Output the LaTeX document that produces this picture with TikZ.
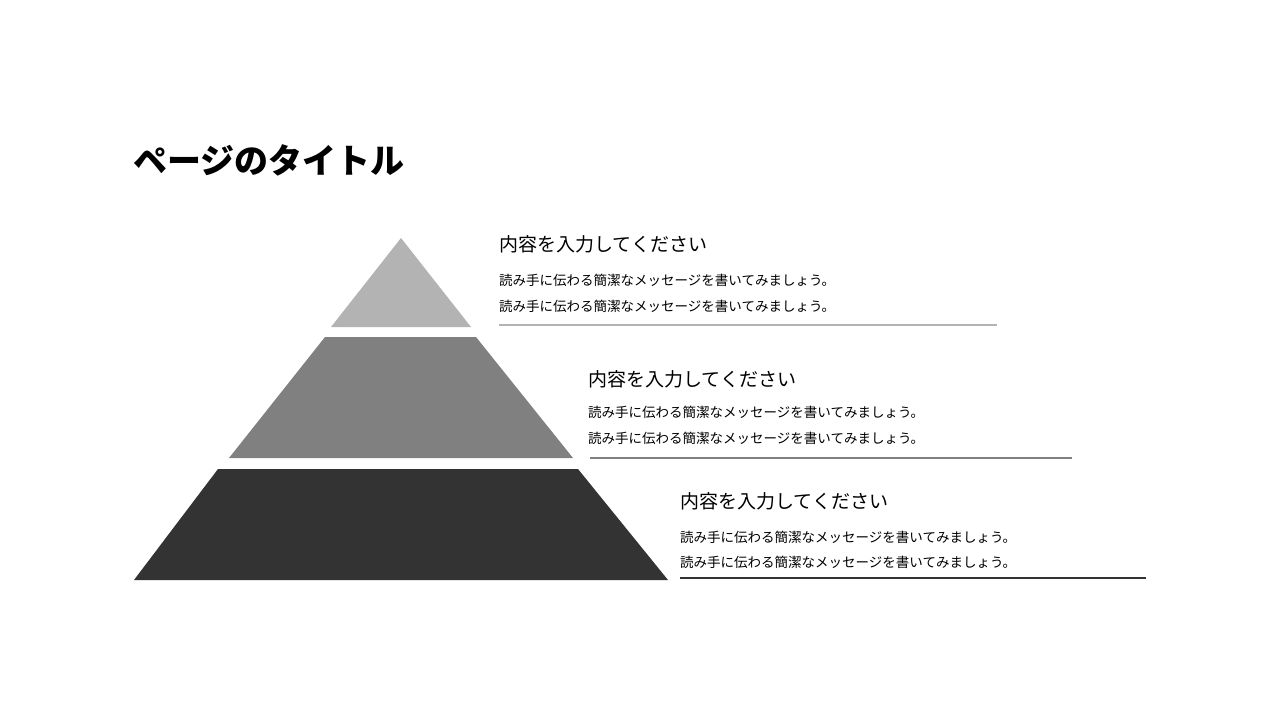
\documentclass[tikz,border=0pt]{standalone}
\usepackage{fontspec}
\setmainfont{Noto Sans CJK JP}
\tikzset{
 head/.style={anchor=west,inner sep=0pt,font=\fontsize{19}{22}\selectfont},
 body/.style={anchor=west,inner sep=0pt,font=\fontsize{13.5}{16}\selectfont},
}
\definecolor{c1}{HTML}{B3B3B3}
\definecolor{c2}{HTML}{808080}
\definecolor{c3}{HTML}{333333}
\begin{document}
\begin{tikzpicture}[x=1pt,y=-1pt]
\useasboundingbox (0,0) rectangle (1280,720);
\node[anchor=west,inner sep=0pt,font=\fontsize{34}{40}\selectfont\bfseries] (title) at (133,160) {ページのタイトル};
\fill[c1] (401,238) -- (471,327) -- (331,327) -- cycle;
\fill[c2] (325,337) -- (476,337) -- (573,458) -- (229,458) -- cycle;
\fill[c3] (218,469) -- (578,469) -- (668,580) -- (134,580) -- cycle;
\node[head] (h1) at (499,244) {内容を入力してください};
\node[body] (a1) at (499,280) {読み手に伝わる簡潔なメッセージを書いてみましょう。};
\node[body] (b1) at (499,306) {読み手に伝わる簡潔なメッセージを書いてみましょう。};
\draw[c1,line width=1.5] (499,325) -- (997,325);
\node[head] (h2) at (588,379) {内容を入力してください};
\node[body] (a2) at (588,412) {読み手に伝わる簡潔なメッセージを書いてみましょう。};
\node[body] (b2) at (588,438) {読み手に伝わる簡潔なメッセージを書いてみましょう。};
\draw[c2,line width=1.5] (590,458) -- (1072,458);
\node[head] (h3) at (680,501) {内容を入力してください};
\node[body] (a3) at (680,537) {読み手に伝わる簡潔なメッセージを書いてみましょう。};
\node[body] (b3) at (680,562) {読み手に伝わる簡潔なメッセージを書いてみましょう。};
\draw[c3,line width=1.5] (680,578) -- (1146,578);
\end{tikzpicture}
\end{document}
